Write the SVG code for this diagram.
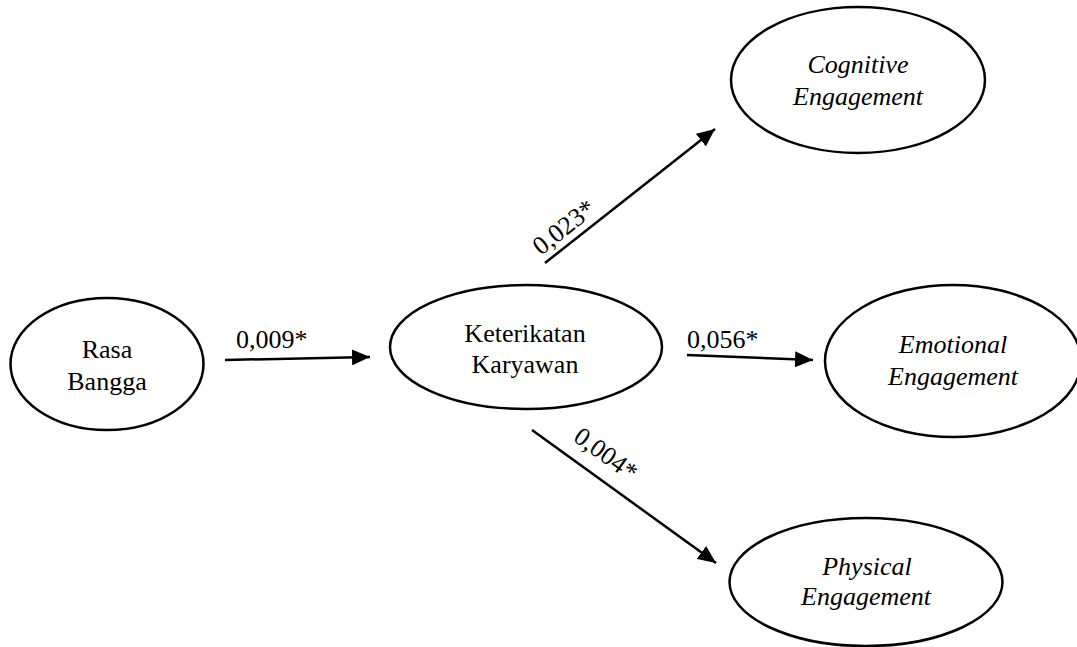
<svg xmlns="http://www.w3.org/2000/svg" width="1077" height="647" viewBox="0 0 1077 647">
<defs>
<style>
.node{fill:#fff;stroke:#000;stroke-width:2.5}
text{font-family:'Liberation Serif','Times New Roman',serif;font-size:26px;fill:#000}
.t{text-anchor:middle}
.i{font-style:italic}
.edge{stroke:#000;stroke-width:2.5;fill:none;marker-end:url(#ah)}
</style>
<marker id="ah" viewBox="0 0 18 16" refX="18" refY="8" markerUnits="userSpaceOnUse" markerWidth="18" markerHeight="16" orient="auto">
<path d="M0,0 L18,8 L0,16 z" fill="#000"/>
</marker>
</defs>
<rect width="1077" height="647" fill="#fff"/>
<g id="connectors">
<line class="edge" x1="225" y1="360" x2="370" y2="357"/>
<line class="edge" x1="545" y1="263" x2="715" y2="129"/>
<line class="edge" x1="687" y1="355" x2="813" y2="360"/>
<line class="edge" x1="532" y1="430" x2="716" y2="563"/>
<text x="236" y="348">0,009*</text>
<text x="687" y="348">0,056*</text>
<text transform="translate(541,256) rotate(-38.2)">0,023*</text>
<text transform="translate(572,440) rotate(36)">0,004*</text>
</g>
<g id="rasa-bangga">
<ellipse class="node" cx="107" cy="364" rx="96.5" ry="66"/>
<text class="t" x="107" y="358">Rasa</text>
<text class="t" x="107" y="390">Bangga</text>
</g>
<g id="keterikatan-karyawan">
<ellipse class="node" cx="526" cy="347" rx="136" ry="62"/>
<text class="t" x="525" y="342">Keterikatan</text>
<text class="t" x="525" y="373">Karyawan</text>
</g>
<g id="cognitive-engagement">
<ellipse class="node" cx="858" cy="80" rx="127" ry="73"/>
<text class="t i" x="858" y="73">Cognitive</text>
<text class="t i" x="858" y="105">Engagement</text>
</g>
<g id="emotional-engagement">
<ellipse class="node" cx="953" cy="361" rx="128" ry="76"/>
<text class="t i" x="953" y="353">Emotional</text>
<text class="t i" x="953" y="385">Engagement</text>
</g>
<g id="physical-engagement">
<ellipse class="node" cx="866" cy="582" rx="136.5" ry="64"/>
<text class="t i" x="867" y="575">Physical</text>
<text class="t i" x="866" y="605">Engagement</text>
</g>
</svg>
